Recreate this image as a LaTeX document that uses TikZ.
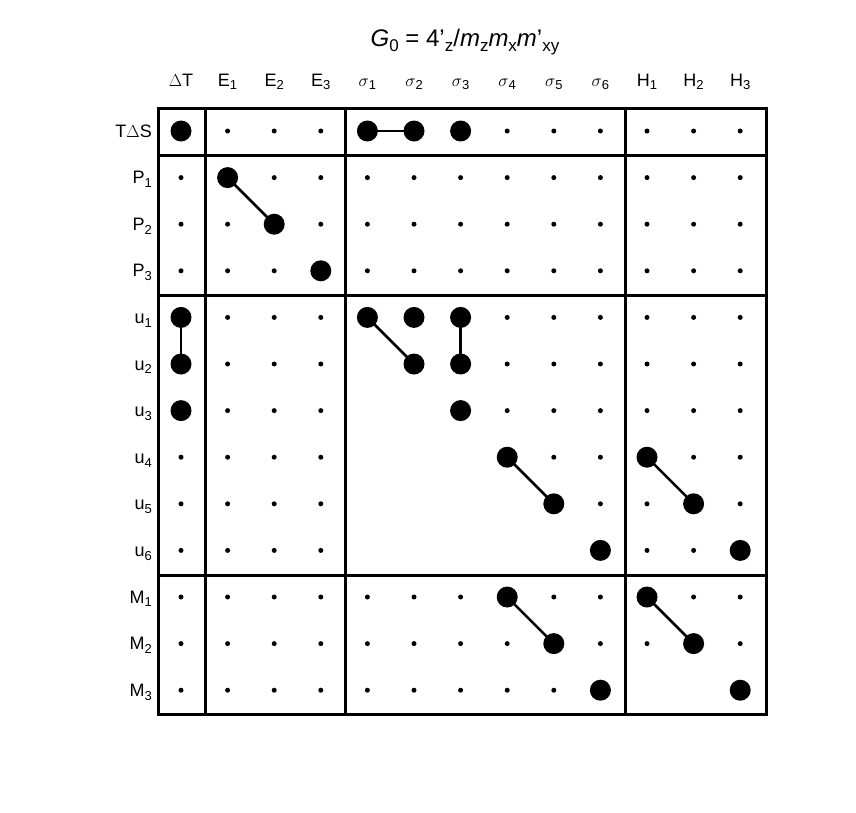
\documentclass[tikz,border=0pt]{standalone}
\usepackage{fontspec}
\setmainfont{Liberation Sans}
\newcommand{\sbx}[1]{\raisebox{-0.4ex}{\fontsize{13}{13}\selectfont #1}}
\newcommand{\sbt}[1]{\raisebox{-0.45ex}{\fontsize{17}{17}\selectfont #1}}
\begin{document}
\begin{tikzpicture}[x=1pt,y=-1pt,
  lab/.style={font=\fontsize{18}{20}\selectfont,inner sep=0pt},
  small/.style={circle,fill=black,inner sep=0pt,minimum size=5pt},
  big/.style={circle,fill=black,inner sep=0pt,minimum size=21pt},
  frame/.style={line width=3pt},
  link/.style={line width=2.5pt}]
\useasboundingbox (0,0) rectangle (856,812);
% coordinates
\foreach \r in {0,...,12}{\foreach \c in {0,...,12}{
  \coordinate (p-\r-\c) at (181+46.6*\c,131+46.6*\r);}}
% small dots
\foreach \r in {0,...,12}{\foreach \c in {0,...,12}{
  \pgfmathtruncatemacro{\absent}{((\r>=5)&&(\r<=9)&&(\c>=4)&&(\c<=\r-1)) || ((\r==12)&&(\c>=10)&&(\c<=11))}
  \ifnum\absent=0 \node[small] at (p-\r-\c) {};\fi}}
% frame
\draw[frame] (158,108) rectangle (766,714);
\draw[frame] (205,108) -- (205,714) (345,108) -- (345,714) (625,108) -- (625,714);
\draw[frame] (158,155) -- (766,155) (158,295) -- (766,295) (158,575) -- (766,575);
% links
\foreach \a/\b in {0-4/0-5,1-1/2-2,4-0/5-0,4-4/5-5,4-6/5-6,7-7/8-8,7-10/8-11,10-7/11-8,10-10/11-11}
  \draw[link] (p-\a) -- (p-\b);
% big dots
\foreach \r/\c in {0/0,0/4,0/5,0/6,1/1,2/2,3/3,4/0,5/0,6/0,4/4,4/5,4/6,5/5,5/6,6/6,7/7,8/8,9/9,7/10,8/11,9/12,10/7,11/8,12/9,10/10,11/11,12/12}
  \node[big] at (p-\r-\c) {};
% column headers
\foreach \t [count=\i from 0] in {{$\Delta$T},{E\sbx{1}},{E\sbx{2}},{E\sbx{3}},{$\sigma$\sbx{1}},{$\sigma$\sbx{2}},{$\sigma$\sbx{3}},{$\sigma$\sbx{4}},{$\sigma$\sbx{5}},{$\sigma$\sbx{6}},{H\sbx{1}},{H\sbx{2}},{H\sbx{3}}}
  \node[lab,anchor=base] (h\i) at (181+46.6*\i,86) {\t};
% row labels
\foreach \t [count=\i from 0] in {{T$\Delta$S},{P\sbx{1}},{P\sbx{2}},{P\sbx{3}},{u\sbx{1}},{u\sbx{2}},{u\sbx{3}},{u\sbx{4}},{u\sbx{5}},{u\sbx{6}},{M\sbx{1}},{M\sbx{2}},{M\sbx{3}}}
  \node[lab,anchor=base east] (r\i) at (152,137+46.6*\i) {\t};
% title
\node[font=\fontsize{24}{26}\selectfont,inner sep=0pt,anchor=base] (title) at (465,46)
  {\textit{G}\sbt{0} = 4'\sbt{z}/\textit{m}\sbt{z}\textit{m}\sbt{x}\textit{m}'\sbt{xy}};
\end{tikzpicture}
\end{document}
